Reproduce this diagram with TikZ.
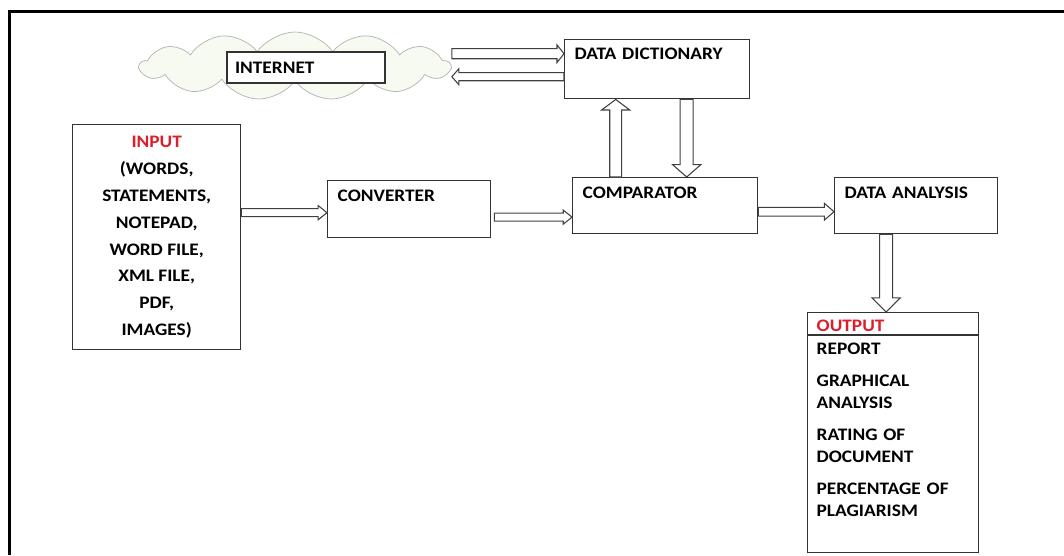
\documentclass[tikz,border=0pt]{standalone}
\usepackage{fontspec}
\setmainfont{Carlito}[FakeStretch=1.1]
\usetikzlibrary{calc,shapes.symbols}
\definecolor{inred}{RGB}{220,30,45}
\definecolor{cloudfill}{RGB}{247,250,240}
\def\blockarrow[#1](#2)(#3)(#4:#5:#6){\draw[#1] let \p1=(#2), \p2=(#3), \n1={veclen(\x2-\x1,\y2-\y1)}, \n2={(\x2-\x1)/\n1}, \n3={(\y2-\y1)/\n1} in
	({\x1-(\n3)*#4},{\y1+(\n2)*#4}) -- ({\x2-(\n2)*#6-(\n3)*#4},{\y2-(\n3)*#6+(\n2)*#4}) -- ({\x2-(\n2)*#6-(\n3)*#5},{\y2-(\n3)*#6+(\n2)*#5}) -- (\p2)
	-- ({\x2-(\n2)*#6+(\n3)*#5},{\y2-(\n3)*#6-(\n2)*#5}) -- ({\x2-(\n2)*#6+(\n3)*#4},{\y2-(\n3)*#6-(\n2)*#4}) -- ({\x1+(\n3)*#4},{\y1-(\n2)*#4}) -- cycle;}

\begin{document}
\begin{tikzpicture}[font=\fontsize{10}{12}\selectfont\bfseries,
		procbox/.style={draw=black!80, line width=0.8pt, anchor=north west, align=left, inner xsep=0.2cm, inner ysep=2pt, text height=10pt, text depth=#1},
		procbox/.default=17.9pt,
		blockline/.style={draw=black!75, fill=white, line width=0.6pt}]
	%%%%% START %%%%%
	
	\useasboundingbox (0, 0) rectangle (21.28, 11.1);
	\draw[line width=1.4pt] (0.19, 0) -- (0.19, 10.87) -- (21.28, 10.87);
	
	\node[cloud, cloud puffs=13, cloud puff arc=110, draw=black!30, fill=cloudfill, minimum width=6.2cm, minimum height=1.36cm, cloud ignores aspect] (cloud) at (5.9, 9.78) {};
	\node[draw=black!80, line width=0.7pt, fill=white, text width=2.84cm, inner xsep=0.16cm, minimum height=0.62cm, align=left] (inet) at (6.12, 9.75) {INTERNET};
	
	\node[procbox=20.6pt, text height=9pt, text width=3.3cm] (dd) at (11.28, 10.32) {DATA DICTIONARY};
	\node[procbox=18.4pt, text width=2.86cm] (conv) at (6.54, 7.5) {CONVERTER};
	\node[procbox, text width=3.3cm] (comp) at (11.44, 7.56) {COMPARATOR};
	\node[procbox, text width=2.86cm] (da) at (16.68, 7.56) {DATA ANALYSIS};
	
	\node[draw=black!80, line width=0.8pt, anchor=north west, minimum width=3.36cm, minimum height=4.5cm, align=center, font=\fontsize{10}{15.3}\selectfont\bfseries] (inp) at (1.44, 8.62)
		{\textcolor{inred}{INPUT}\\(WORDS,\\STATEMENTS,\\NOTEPAD,\\WORD FILE,\\XML FILE,\\PDF,\\IMAGES)};
	
	\node[draw=black!80, line width=0.8pt, anchor=north west, text width=3.06cm, inner xsep=0.18cm, inner ysep=2pt, text height=8.8pt, text depth=123.7pt, align=left, font=\fontsize{10}{12.5}\selectfont\bfseries] (out) at (16.14, 4.86)
		{\textcolor{inred}{OUTPUT}\\[0.5pt]REPORT\\[5.7pt]GRAPHICAL\\ANALYSIS\\[5.7pt]RATING OF\\DOCUMENT\\[5.7pt]PERCENTAGE OF\\PLAGIARISM};
	\draw[draw=black!80, line width=0.8pt] ($(out.north west)+(0, -0.46)$) -- ($(out.north east)+(0, -0.46)$);
	
	% cloud <-> dictionary
	\coordinate (a7) at ($(dd.west)+(0, 0.31)$);
	\coordinate (a8) at ($(dd.west)+(0, -0.15)$);
	\blockarrow[blockline](cloud.east |- a7)(a7)(2.85:5:4)
	\blockarrow[blockline](a8)(cloud.east |- a8)(2.3:4.5:4)
	
	% dictionary <-> comparator
	\coordinate (a5) at ($(dd.south)+(-0.83, 0)$);
	\coordinate (a6) at ($(dd.south)+(0.59, 0)$);
	\blockarrow[blockline](comp.north -| a5)(a5)(3.4:8:6)
	\blockarrow[blockline](a6)(comp.north -| a6)(3.7:8:7)
	
	% main line
	\coordinate (a1) at ($(conv.west)+(0, -0.07)$);
	\blockarrow[blockline](inp.east |- a1)(a1)(2.3:4:5)
	\coordinate (a2) at ($(conv.east)+(0.06, -0.16)$);
	\blockarrow[blockline](a2)(comp.west |- a2)(2.3:4:5)
	\coordinate (a3) at ($(comp.east)+(0, -0.12)$);
	\blockarrow[blockline](a3)(da.west |- a3)(2.5:4.8:5.5)
	\coordinate (a4) at ($(da.south)+(-0.6, 0)$);
	\blockarrow[blockline](a4)(out.north -| a4)(3.7:8:8)
	
	%%%%% END %%%%%
\end{tikzpicture}
\end{document}
